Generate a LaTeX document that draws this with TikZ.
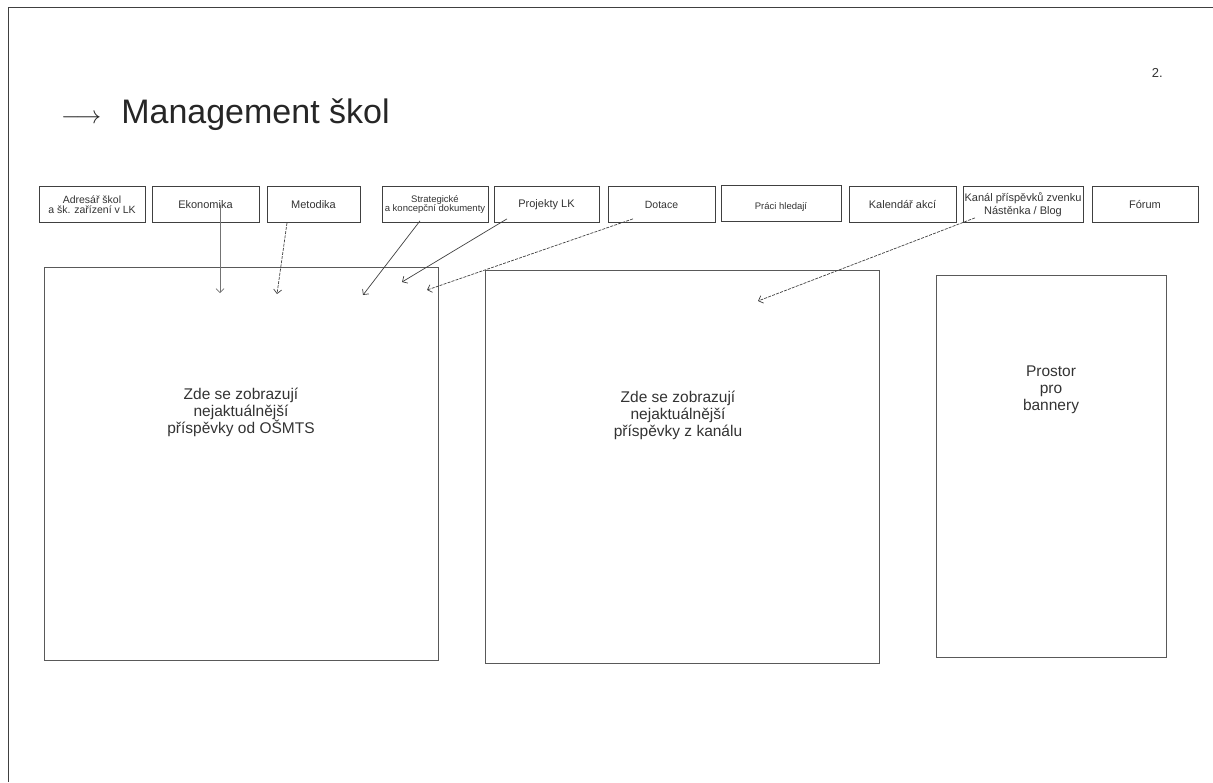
\documentclass[tikz,border=0pt]{standalone}
\usepackage{fontspec}
\setmainfont{Liberation Sans}
\usetikzlibrary{arrows.meta}
\begin{document}
\begin{tikzpicture}[x=1pt,y=-1pt,
  tab/.style={draw=black!75,line width=0.7pt,minimum height=36pt,inner sep=0pt,align=center,text=black!80,font=\fontsize{11}{12}\selectfont},
  big/.style={draw=black!65,line width=0.9pt,inner sep=0pt},
  bigtext/.style={align=center,text=black!80,font=\fontsize{15.5}{17}\selectfont,inner sep=0pt},
  conn/.style={draw=black!75,line width=0.7pt,-{Straight Barb[length=4pt,width=8pt]}},
  dsh/.style={dash pattern=on 3pt off 1.2pt}]
\useasboundingbox (0,0) rectangle (1213,782);
\draw[black!75,line width=0.8pt] (1213,7.5) -- (8,7.5) -- (8,782);

\node[anchor=base east,inner sep=0pt,font=\fontsize{13}{13}\selectfont,text=black!80] (pg) at (1163,77) {2.};
\node[anchor=base west,inner sep=0pt,text=black!85,font=\fontsize{34}{34}\selectfont] (title) at (61,123) {{\fontsize{27}{27}\selectfont$\longrightarrow$}\hspace{20pt}Management škol};

\node[tab,minimum width=106,font=\fontsize{10.5}{10}\selectfont] (adr) at (92,204.5) {Adresář škol\\a šk. zařízení v LK};
\node[tab,minimum width=107] (eko) at (205.5,204.5) {Ekonomika};
\node[tab,minimum width=93] (met) at (313.5,204.5) {Metodika};
\node[tab,minimum width=106,font=\fontsize{9.5}{9.5}\selectfont] (str) at (435,204.5) {Strategické\\a koncepční dokumenty};
\node[tab,minimum width=105] (proj) at (546.5,204.5) {Projekty LK};
\node[tab,minimum width=107,font=\fontsize{10.5}{12}\selectfont] (dot) at (661.5,204.5) {Dotace};
\node[tab,minimum width=120,font=\fontsize{9.5}{12}\selectfont,text height=11pt,text depth=0pt] (prace) at (781,203.5) {Práci hledají};
\node[tab,minimum width=107] (kal) at (902.5,204.5) {Kalendář akcí};
\node[tab,minimum width=120,font=\fontsize{11}{12.5}\selectfont] (kan) at (1023,204.5) {Kanál příspěvků zvenku\\Nástěnka / Blog};
\node[tab,minimum width=106] (for) at (1145,204.5) {Fórum};

\node[big,minimum width=394,minimum height=393] (b1) at (241,463.5) {};
\node[big,minimum width=394,minimum height=393] (b2) at (682,466.5) {};
\node[big,minimum width=230,minimum height=382] (b3) at (1051,466) {};

\node[bigtext] (t1) at (241,412) {Zde se zobrazují\\nejaktuálnější\\příspěvky od OŠMTS};
\node[bigtext] (t2) at (678,415) {Zde se zobrazují\\nejaktuálnější\\příspěvky z kanálu};
\node[bigtext] (t3) at (1051,390) {Prostor\\pro\\bannery};

\coordinate (e1) at (220,293);
\coordinate (e2) at (277,294);
\coordinate (e3) at (363,295);
\coordinate (e4) at (402,282);
\coordinate (e5) at (427,290);
\coordinate (e6) at (758,301);

\draw[conn,draw=black!55] ([xshift=14.5pt,yshift=-0.5pt]eko.center) -- (e1);
\draw[conn,dsh] ([xshift=-26.5pt]met.south) -- (e2);
\draw[conn] ([xshift=-15pt,yshift=2pt]str.south) -- (e3);
\draw[conn] ([xshift=-39.5pt,yshift=4pt]proj.south) -- (e4);
\draw[conn,dsh] ([xshift=-28.5pt,yshift=4pt]dot.south) -- (e5);
\draw[conn,dsh] ([xshift=-48pt,yshift=5pt]kan.south) -- (e6);
\end{tikzpicture}
\end{document}
